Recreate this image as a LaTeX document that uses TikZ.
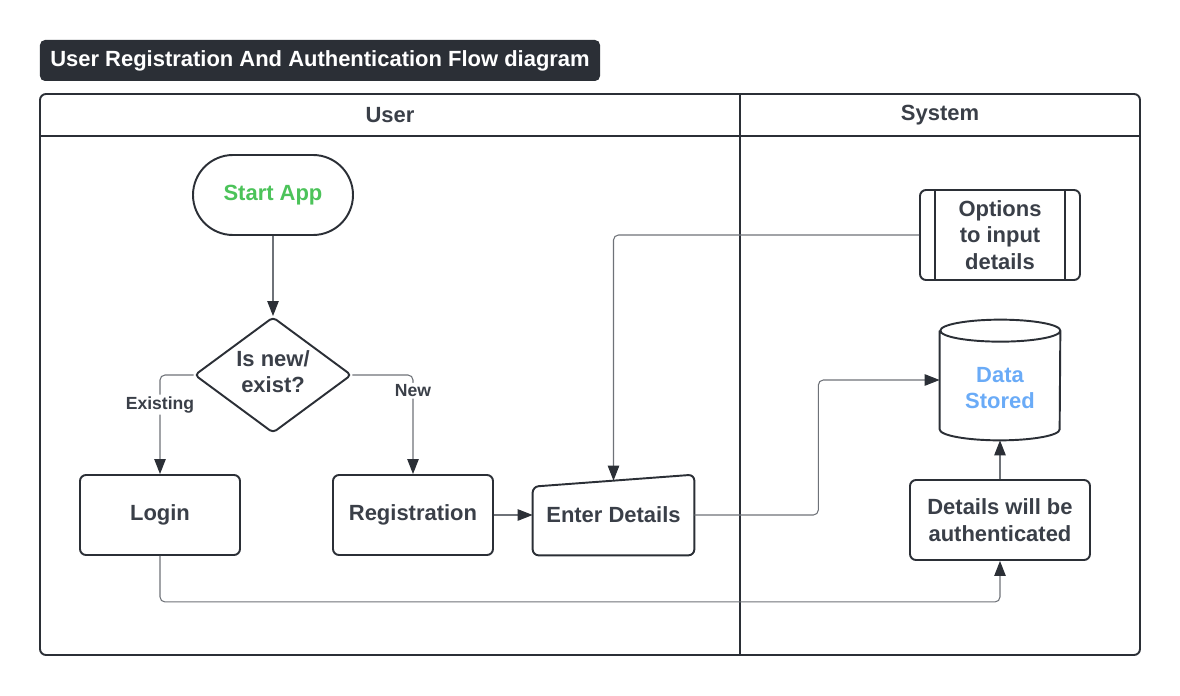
\documentclass[tikz,border=0pt]{standalone}
\usepackage{fontspec}
\setmainfont{Liberation Sans}
\usetikzlibrary{shapes.geometric,arrows.meta}
\definecolor{ink}{HTML}{2B2F36}
\definecolor{txt}{HTML}{3A3F48}
\definecolor{wire}{HTML}{6E7278}
\definecolor{startgreen}{HTML}{4CC35A}
\definecolor{storeblue}{HTML}{6AABF7}
\begin{document}
\begin{tikzpicture}[box/.style = {draw=ink, line width=1.1pt, rounded corners=0.12cm, fill=white,
                                  minimum width=3.2cm, minimum height=1.6cm, align=center,
                                  text=txt, font=\fontsize{12.5}{15}\selectfont\bfseries},
                    plain/.style = {align=center, text=txt, font=\fontsize{12.5}{15}\selectfont\bfseries},
                    outline/.style = {draw=ink, line width=1.1pt},
                    arrow/.style = {draw=wire, line width=0.6pt, rounded corners=0.1cm,
                                    -{Triangle[length=8.5pt,width=6.5pt,color=ink]}},
                    tag/.style = {fill=white, inner sep=1pt, text=txt, font=\fontsize{10}{12}\selectfont\bfseries}]
                    \useasboundingbox (0,0) rectangle (23.6,13.9);

                    \node (title) at (6.4,12.69) [fill=ink, rounded corners=0.1cm, minimum width=11.2cm,
                          minimum height=0.82cm, text=white, font=\fontsize{12.5}{15}\selectfont\bfseries]
                          {User Registration And Authentication Flow diagram};

                    \draw[outline, rounded corners=0.12cm] (0.8,0.8) rectangle (22.8,12.02);
                    \draw[outline] (0.8,11.18) -- (22.8,11.18);
                    \draw[outline] (14.8,0.8) -- (14.8,12.02);
                    \node (user) at (7.8,11.6) [plain] {User};
                    \node (system) at (18.8,11.6) [plain] {System};

                    \node (start) at (5.46,10) [box, rounded corners=0.8cm, text=startgreen] {Start App};
                    \node (choice) at (5.46,6.4) [box, diamond, aspect=1.35, inner sep=0pt, rounded corners=0.08cm,
                          minimum width=3.14cm, minimum height=2.32cm] {Is new/\\exist?\\[-11pt]};
                    \node (login) at (3.2,3.6) [box] {Login};
                    \node (register) at (8.26,3.6) [box] {Registration};

                    \node (enter) at (12.27,3.6) [plain, minimum width=3.22cm, minimum height=1.6cm] {Enter Details};
                    \draw[outline, rounded corners=0.12cm] (enter.south west) -- ([yshift=-0.24cm]enter.north west)
                          -- (enter.north east) -- (enter.south east) -- cycle;

                    \node (options) at (20,9.2) [box, minimum height=1.8cm, inner sep=1pt] {Options\\to input\\details};
                    \draw[outline] ([xshift=0.32cm]options.north west) -- ([xshift=0.32cm]options.south west);
                    \draw[outline] ([xshift=-0.32cm]options.north east) -- ([xshift=-0.32cm]options.south east);

                    \node (store) at (20,6.3) [minimum width=2.4cm, minimum height=2.4cm] {};
                    \node (storetext) at ([yshift=-0.16cm]store.center) [plain, text=storeblue] {Data\\Stored};
                    \draw[outline] ([yshift=-0.22cm]store.north west) -- ([yshift=0.22cm]store.south west)
                          arc[start angle=180, end angle=360, x radius=1.2cm, y radius=0.22cm]
                          -- ([yshift=-0.22cm]store.north east)
                          arc[start angle=0, end angle=360, x radius=1.2cm, y radius=0.22cm];

                    \node (auth) at (20,3.5) [box, minimum width=3.6cm] {Details will be\\authenticated};

                    \draw[arrow] (start) -- (choice);
                    \draw[arrow] (choice.west) -| node (existing) [tag, pos=0.65] {Existing} (login.north);
                    \draw[arrow] (choice.east) -| node (new) [tag, pos=0.58] {New} (register.north);
                    \draw[arrow] (register) -- (enter);
                    \draw[arrow] (options.west) -| ([yshift=-0.12cm]enter.north);
                    \draw[arrow] (enter.east) -- ++(2.48,0) |- (store.west);
                    \draw[arrow] (auth) -- (store);
                    \draw[arrow] (login.south) -- ++(0,-0.92) -| (auth.south);
                \end{tikzpicture}
\end{document}
